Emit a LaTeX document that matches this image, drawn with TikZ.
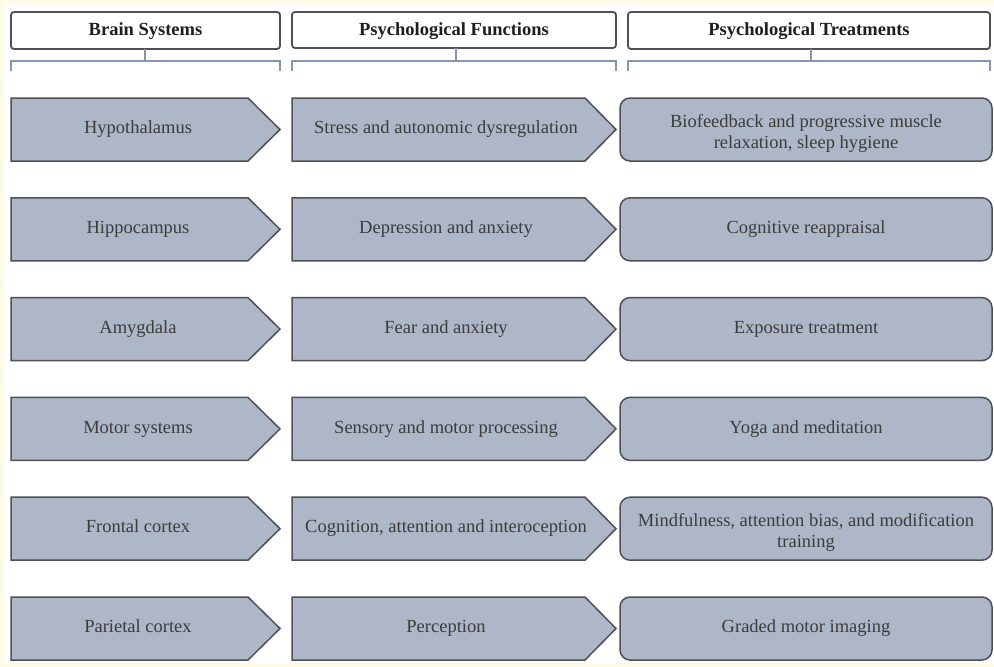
\documentclass[tikz,border=0pt]{standalone}
\usepackage{fontspec}
\setmainfont{Liberation Serif}
\definecolor{cream}{HTML}{FFFCE6}
\definecolor{boxfill}{HTML}{ADB7C8}
\definecolor{boxline}{HTML}{4E5054}
\definecolor{brk}{HTML}{8296AE}
\definecolor{bodytxt}{HTML}{3C3C3C}
\definecolor{headtxt}{HTML}{1E1E1E}
\tikzset{
  hdrbox/.style={draw=boxline, line width=1.8pt, rounded corners=3pt, fill=white},
  hdrtxt/.style={font=\fontsize{18.5}{21}\selectfont\bfseries, text=headtxt, inner sep=0pt, text height=12.5pt, text depth=4pt},
  bracket/.style={draw=brk, line width=1.4pt},
  penta/.style={draw=boxline, line width=1.5pt, fill=boxfill, line join=miter},
  rbox/.style={draw=boxline, line width=1.5pt, fill=boxfill, rounded corners=10pt},
  bodytext/.style={font=\fontsize{18.5}{21}\selectfont, text=bodytxt, align=center, inner sep=0pt, text height=12.5pt, text depth=4pt},
  bodytwo/.style={font=\fontsize{18.5}{21}\selectfont, text=bodytxt, align=center, inner sep=0pt, yshift=-4pt}
}
\begin{document}
\begin{tikzpicture}[x=1pt,y=-1pt]
\useasboundingbox (0,0) rectangle (994,667);
\fill[cream] (0,0) rectangle (994,667);
\fill[white] (4,4) rectangle (994,663);
% headers
\draw[hdrbox] (11,12) rectangle (280,49);
\draw[hdrbox] (292,12) rectangle (616,48);
\draw[hdrbox] (628,12) rectangle (990,49);
\node[hdrtxt] (h1) at (145.5,31) {Brain Systems};
\node[hdrtxt] (h2) at (454,31) {Psychological Functions};
\node[hdrtxt] (h3) at (809,31) {Psychological Treatments};
% brackets
\draw[bracket] (11,71) -- (11,61) -- (280,61) -- (280,71);
\draw[bracket] (145,49) -- (145,61);
\draw[bracket] (292,71) -- (292,61) -- (616,61) -- (616,71);
\draw[bracket] (456,48) -- (456,61);
\draw[bracket] (628,71) -- (628,61) -- (990,61) -- (990,71);
\draw[bracket] (811,49) -- (811,61);
% rows
\foreach \i/\a/\b/\c/\st in {
  0/Hypothalamus/Stress and autonomic dysregulation/{Biofeedback and progressive muscle\\relaxation, sleep hygiene}/bodytwo,
  1/Hippocampus/Depression and anxiety/Cognitive reappraisal/bodytext,
  2/Amygdala/Fear and anxiety/Exposure treatment/bodytext,
  3/Motor systems/Sensory and motor processing/Yoga and meditation/bodytext,
  4/Frontal cortex/{Cognition, attention and interoception}/{Mindfulness, attention bias, and modification\\training}/bodytwo,
  5/Parietal cortex/Perception/Graded motor imaging/bodytext}{
  \pgfmathsetmacro{\t}{98+99.8*\i}
  \pgfmathsetmacro{\bt}{\t+63}
  \pgfmathsetmacro{\m}{\t+31.5}
  \draw[penta] (11,\t) -- (248,\t) -- (280,\m) -- (248,\bt) -- (11,\bt) -- cycle;
  \draw[penta] (292,\t) -- (585,\t) -- (616,\m) -- (585,\bt) -- (292,\bt) -- cycle;
  \draw[rbox] (620,\t) rectangle (992,\bt);
  \node[bodytext] (l\i) at (138,\m) {\a};
  \node[bodytext] (f\i) at (446,\m) {\b};
  \node[\st] (t\i) at (806,\m) {\c};
}
\end{tikzpicture}
\end{document}
